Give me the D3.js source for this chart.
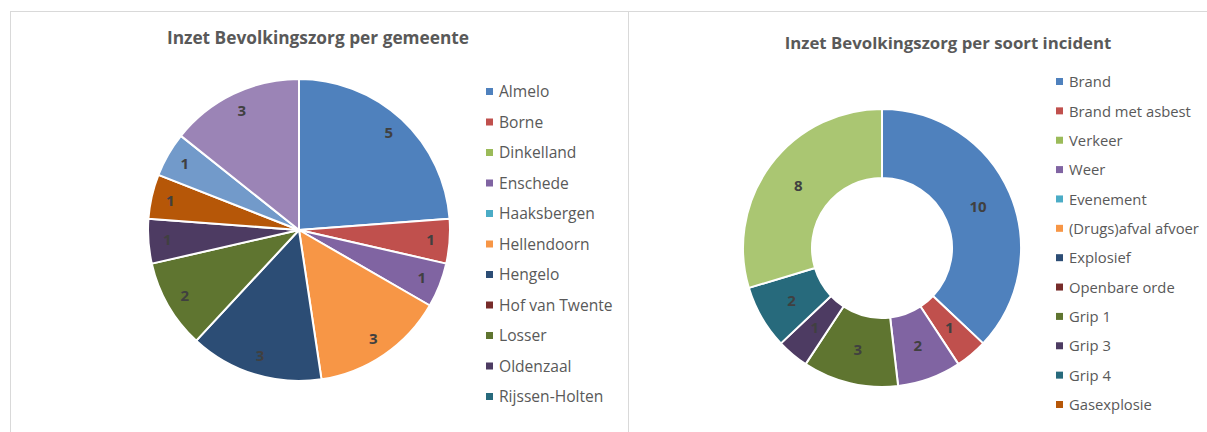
<!DOCTYPE html>
<html><head><meta charset="utf-8">
<script src="https://cdn.jsdelivr.net/npm/d3@7"></script>
<style>
body{margin:0;background:#fff;}
svg text{font-family:"Open Sans",sans-serif;}
</style></head>
<body><svg id="c" width="1207" height="432"></svg>
<script>
// Left chart: Inzet Bevolkingszorg per gemeente
const gemeenten = ["Almelo","Borne","Dinkelland","Enschede","Haaksbergen","Hellendoorn","Hengelo","Hof van Twente","Losser","Oldenzaal","Rijssen-Holten","Tubbergen","Twenterand","Wierden"];
const gemeenteValues = [5,1,0,1,0,3,3,0,2,1,0,1,1,3];
const gemeenteColors = ["#4F81BD","#C0504D","#9BBB59","#8064A2","#4BACC6","#F79646","#2C4D75","#772C2A","#5F7530","#4D3B62","#276A7C","#B65708","#729ACA","#9B84B6"];
const gemeenteLegendShown = 11;

// Right chart: Inzet Bevolkingszorg per soort incident
const incidenten = ["Brand","Brand met asbest","Verkeer","Weer","Evenement","(Drugs)afval afvoer","Explosief","Openbare orde","Grip 1","Grip 3","Grip 4","Gasexplosie","Overig"];
const incidentValues = [10,1,0,2,0,0,0,0,3,1,2,0,8];
const incidentColors = ["#4F81BD","#C0504D","#9BBB59","#8064A2","#4BACC6","#F79646","#2C4D75","#772C2A","#5F7530","#4D3B62","#276A7C","#B65708","#AAC672"];
const incidentLegendShown = 12;

const svg = d3.select("#c");
// frame lines
const frame = svg.append("g").attr("stroke","#d9d9d9").attr("stroke-width",1);
frame.append("line").attr("x1",10).attr("x2",1207).attr("y1",11.5).attr("y2",11.5);
frame.append("line").attr("x1",10.5).attr("x2",10.5).attr("y1",11).attr("y2",432);
frame.append("line").attr("x1",628.5).attr("x2",628.5).attr("y1",11).attr("y2",432);

function drawChart(opts){
  const g = svg.append("g");
  g.append("text").attr("x",opts.titleX).attr("y",opts.titleY)
    .attr("text-anchor","middle").attr("font-size",opts.titleSize).attr("font-weight","bold")
    .attr("fill","#595959").text(opts.title);
  const data = opts.names.map((n,i)=>({name:n,value:opts.values[i],color:opts.colors[i]}));
  const pie = d3.pie().value(d=>d.value).sort(null);
  const arcs = pie(data);
  const arc = d3.arc().innerRadius(opts.inner).outerRadius(opts.outer);
  const pg = g.append("g").attr("transform",`translate(${opts.cx},${opts.cy})`);
  pg.selectAll("path").data(arcs.filter(a=>a.data.value>0)).join("path")
    .attr("d",arc).attr("fill",a=>a.data.color)
    .attr("stroke","#fff").attr("stroke-width",2).attr("stroke-linejoin","round");
  const la = d3.arc().innerRadius(opts.labelR).outerRadius(opts.labelR);
  pg.selectAll("text").data(arcs.filter(a=>a.data.value>0)).join("text")
    .attr("transform",a=>`translate(${la.centroid(a)})`)
    .attr("text-anchor","middle").attr("dy","0.35em")
    .attr("font-size",15).attr("font-weight","bold").attr("fill","#404040")
    .text(a=>a.data.value);
  const lg = g.append("g");
  const items = data.slice(0,opts.legendShown);
  const ly = d3.scalePoint().domain(items.map(d=>d.name)).range([opts.legendY0,opts.legendY1]);
  const it = lg.selectAll("g").data(items).join("g")
    .attr("transform",d=>`translate(${opts.legendX},${ly(d.name)})`);
  it.append("rect").attr("x",0).attr("y",-4).attr("width",7).attr("height",7).attr("fill",d=>d.color);
  it.append("text").attr("x",13).attr("dy","0.35em").attr("font-size",opts.legendSize)
    .attr("fill","#595959").text(d=>d.name);
}

drawChart({title:"Inzet Bevolkingszorg per gemeente",titleX:318,titleY:44,titleSize:17.3,
  names:gemeenten,values:gemeenteValues,colors:gemeenteColors,
  cx:299,cy:230,inner:0,outer:151,labelR:132,
  legendShown:gemeenteLegendShown,legendX:486,legendY0:92,legendY1:397,legendSize:15.6});

drawChart({title:"Inzet Bevolkingszorg per soort incident",titleX:948,titleY:49,titleSize:16.8,
  names:incidenten,values:incidentValues,colors:incidentColors,
  cx:882,cy:248,inner:70,outer:139,labelR:104.5,
  legendShown:incidentLegendShown,legendX:1056,legendY0:82,legendY1:405,legendSize:14.8});
</script></body></html>
